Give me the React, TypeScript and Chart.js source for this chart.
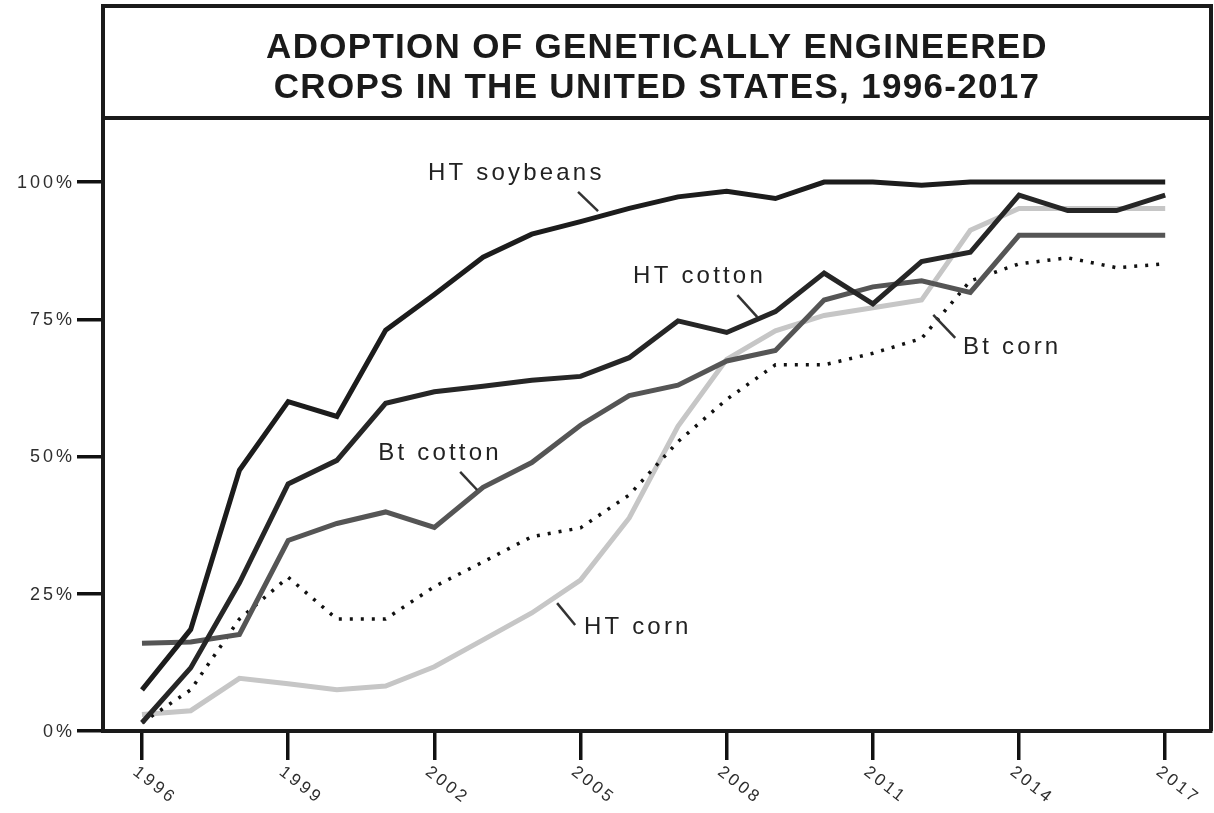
import React, { useEffect, useRef } from "react";
import { Chart, registerables } from "chart.js";

Chart.register(...registerables);

const years = [1996, 1997, 1998, 1999, 2000, 2001, 2002, 2003, 2004, 2005, 2006, 2007, 2008, 2009, 2010, 2011, 2012, 2013, 2014, 2015, 2016, 2017];
const tickYears = [1996, 1999, 2002, 2005, 2008, 2011, 2014, 2017];
const tickLabels = ["1996", "1999", "2002", "2005", "2008", "2011", "2014", "2017"];
const yTickValues = [0, 25, 50, 75, 100];
const yTickLabels = ["0%", "25%", "50%", "75%", "100%"];
const titleLines = ["ADOPTION OF GENETICALLY ENGINEERED", "CROPS IN THE UNITED STATES, 1996-2017"];

const htSoybeans = [7.5, 18.5, 47.5, 60, 57.3, 73, 79.5, 86.3, 90.5, 92.8, 95.2, 97.3, 98.3, 97, 100, 100, 99.4, 100, 100, 100, 100, 100];
const htCotton = [1.5, 11.5, 27, 45, 49.3, 59.7, 61.8, 62.8, 63.9, 64.6, 68, 74.7, 72.6, 76.4, 83.4, 77.8, 85.5, 87.2, 97.6, 94.8, 94.8, 97.6];
const btCotton = [16, 16.2, 17.6, 34.7, 37.8, 39.9, 37.1, 44.4, 48.9, 55.7, 61.1, 63, 67.4, 69.3, 78.5, 80.9, 82, 79.9, 90.3, 90.3, 90.3, 90.3];
const btCorn = [1.5, 7.5, 20.4, 28, 20.4, 20.4, 26.3, 30.8, 35.4, 37, 43, 52.7, 60.4, 66.7, 66.7, 68.8, 71.5, 82, 85.1, 86.2, 84.4, 85.1];
const htCorn = [3, 3.7, 9.6, 8.6, 7.5, 8.2, 11.7, 16.6, 21.5, 27.5, 38.8, 55.5, 67.7, 72.9, 75.7, 77.1, 78.5, 91.2, 95.2, 95.2, 95.2, 95.2];

const seriesNames = ["HT soybeans", "HT cotton", "Bt cotton", "Bt corn", "HT corn"];

// label anchors in data coordinates (year, percent)
const annotations = [
  { text: "HT soybeans", x: 2001.87, y: 101.6, lx1: 2004.95, ly1: 98.2, lx2: 2005.36, ly2: 94.7 },
  { text: "HT cotton", x: 2006.08, y: 82.9, lx1: 2008.22, ly1: 79.4, lx2: 2008.63, ly2: 75.4 },
  { text: "Bt corn", x: 2012.85, y: 69.9, lx1: 2012.24, ly1: 75.8, lx2: 2012.69, ly2: 71.6 },
  { text: "Bt cotton", x: 2000.85, y: 50.5, lx1: 2002.53, ly1: 47.2, lx2: 2002.88, ly2: 43.9 },
  { text: "HT corn", x: 2005.07, y: 18.8, lx1: 2004.52, ly1: 23.3, lx2: 2004.89, ly2: 19.3 },
];

const toPoints = (vals: number[]) => years.map((yr, i) => ({ x: yr, y: vals[i] }));

const framePlugin = {
  id: "framePlugin",
  afterDraw(chart: any) {
    const ctx = chart.ctx as CanvasRenderingContext2D;
    const area = chart.chartArea;
    const xs = chart.scales.x;
    const ys = chart.scales.y;
    ctx.save();
    // frame
    ctx.strokeStyle = "#1a1a1a";
    ctx.lineWidth = 4;
    ctx.beginPath();
    ctx.moveTo(area.left, area.bottom);
    ctx.lineTo(area.left, 6);
    ctx.lineTo(area.right, 6);
    ctx.lineTo(area.right, area.bottom);
    ctx.moveTo(area.left, area.top - 2);
    ctx.lineTo(area.right, area.top - 2);
    ctx.stroke();

    // title
    ctx.fillStyle = "#1a1a1a";
    ctx.font = "bold 35px 'Liberation Sans', Arial, sans-serif";
    (ctx as any).letterSpacing = "1.3px";
    ctx.textAlign = "center";
    ctx.textBaseline = "middle";
    const cx = (area.left + area.right) / 2;
    ctx.fillText(titleLines[0], cx, 48);
    ctx.fillText(titleLines[1], cx, 88);

    // y tick labels
    ctx.font = "18px 'Liberation Sans', Arial, sans-serif";
    (ctx as any).letterSpacing = "3px";
    ctx.fillStyle = "#2e2e2e";
    ctx.textAlign = "right";
    yTickValues.forEach((v, i) => {
      ctx.fillText(yTickLabels[i], 75, ys.getPixelForValue(v) + 1);
    });

    // x tick labels (rotated)
    ctx.font = "17px 'Liberation Sans', Arial, sans-serif";
    (ctx as any).letterSpacing = "3px";
    ctx.fillStyle = "#2e2e2e";
    ctx.textAlign = "left";
    tickYears.forEach((v, i) => {
      const px = xs.getPixelForValue(v);
      ctx.save();
      ctx.translate(px - 7, area.bottom + 39);
      ctx.rotate((38 * Math.PI) / 180);
      ctx.fillText(tickLabels[i], 0, 0);
      ctx.restore();
    });

    // annotations
    ctx.font = "24px 'Liberation Sans', Arial, sans-serif";
    (ctx as any).letterSpacing = "3.2px";
    ctx.fillStyle = "#222";
    ctx.textAlign = "left";
    ctx.strokeStyle = "#333";
    ctx.lineWidth = 2.5;
    annotations.forEach((a) => {
      ctx.fillText(a.text, xs.getPixelForValue(a.x), ys.getPixelForValue(a.y));
      ctx.beginPath();
      ctx.moveTo(xs.getPixelForValue(a.lx1), ys.getPixelForValue(a.ly1));
      ctx.lineTo(xs.getPixelForValue(a.lx2), ys.getPixelForValue(a.ly2));
      ctx.stroke();
    });
    (ctx as any).letterSpacing = "0px";
    ctx.restore();
  },
};

export default function App() {
  const canvasRef = useRef<HTMLCanvasElement | null>(null);

  useEffect(() => {
    if (!canvasRef.current) return;
    const chart = new Chart(canvasRef.current, {
      type: "line",
      data: {
        datasets: [
          { label: seriesNames[0], data: toPoints(htSoybeans), borderColor: "#1c1c1c", borderWidth: 5, pointRadius: 0, tension: 0 },
          { label: seriesNames[1], data: toPoints(htCotton), borderColor: "#262626", borderWidth: 5, pointRadius: 0, tension: 0 },
          { label: seriesNames[2], data: toPoints(btCotton), borderColor: "#555555", borderWidth: 5, pointRadius: 0, tension: 0 },
          { label: seriesNames[3], data: toPoints(btCorn), borderColor: "#111111", borderWidth: 3.5, borderDash: [3, 8], pointRadius: 0, tension: 0 },
          { label: seriesNames[4], data: toPoints(htCorn), borderColor: "#c6c6c6", borderWidth: 5, pointRadius: 0, tension: 0 },
        ],
      },
      options: {
        animation: false,
        responsive: true,
        maintainAspectRatio: false,
        layout: { padding: { top: 120, right: 3, left: 0, bottom: 0 } },
        plugins: { legend: { display: false }, tooltip: { enabled: false }, title: { display: false } },
        scales: {
          x: {
            type: "linear",
            min: 1995.2,
            max: 2017.94,
            afterBuildTicks: (scale: any) => {
              scale.ticks = tickYears.map((v) => ({ value: v }));
            },
            afterFit: (scale: any) => {
              scale.height = 82;
            },
            ticks: { display: false },
            grid: { drawOnChartArea: false, drawTicks: true, tickLength: 29, lineWidth: 3.5, color: "#111" },
            border: { display: true, width: 4, color: "#1a1a1a" },
          },
          y: {
            type: "linear",
            min: 0,
            max: 111.3,
            afterBuildTicks: (scale: any) => {
              scale.ticks = yTickValues.map((v) => ({ value: v }));
            },
            afterFit: (scale: any) => {
              scale.width = 103;
            },
            ticks: { display: false },
            grid: { drawOnChartArea: false, drawTicks: true, tickLength: 26, lineWidth: 3.5, color: "#111" },
            border: { display: true, width: 4, color: "#1a1a1a" },
          },
        },
      },
      plugins: [framePlugin],
    });
    return () => chart.destroy();
  }, []);

  return (
    <div style={{ position: "fixed", left: 0, top: 0, width: 1214, height: 813, background: "#fff" }}>
      <canvas ref={canvasRef} />
    </div>
  );
}
